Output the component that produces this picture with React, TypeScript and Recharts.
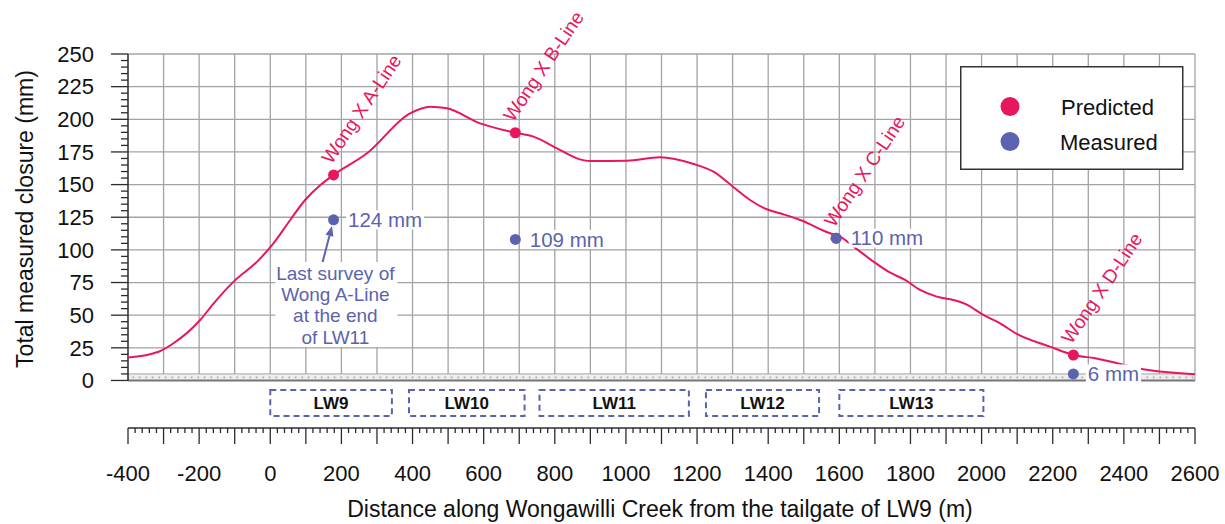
import React from 'react';
import {
  ComposedChart,
  Line,
  Scatter,
  XAxis,
  YAxis,
  ReferenceLine,
  ReferenceArea,
  ReferenceDot,
  Legend,
  Label,
} from 'recharts';

// ---------------- data ----------------
const CURVE_X = [-400, -314, -272, -197, -159, -103, -37, 9, 56, 98, 141, 178, 272, 393, 450, 497, 590, 689, 740, 806, 862, 899, 1003, 1096, 1190, 1246, 1301, 1349, 1396, 1433, 1490, 1574, 1602, 1640, 1696, 1743, 1785, 1827, 1874, 1921, 1954, 2005, 2052, 2099, 2192, 2258, 2319, 2469, 2600];
const CURVE_Y = [17.5, 22, 28.5, 46.3, 59.1, 75.7, 91, 105, 122.9, 138.2, 149.7, 157.4, 174, 204.6, 209.7, 208.4, 196.9, 189.7, 186.7, 177.8, 170.1, 168, 168.3, 170.9, 165.8, 159.9, 148.4, 138.2, 131.1, 128, 122.9, 112.7, 110.1, 102.5, 91, 82.5, 77, 69.3, 64.2, 61.6, 58.6, 50.2, 43.8, 35.6, 25.9, 19.5, 17, 8, 4.7];

const LINE_X = [178, 689, 1591, 2258];
const PREDICTED_Y = [157.4, 189.7, 109, 19.5];
const PREDICTED_LABELS = ['Wong X A-Line', 'Wong X B-Line', 'Wong X C-Line', 'Wong X D-Line'];
const MEASURED_Y = [123, 108, 109, 5];
const MEASURED_LABELS = ['124 mm', '109 mm', '110 mm', '6 mm'];

const LW_NAMES = ['LW9', 'LW10', 'LW11', 'LW12', 'LW13'];
const LW_START = [0, 390, 757, 1225, 1600];
const LW_END = [342, 715, 1177, 1543, 2005];

const NOTE_LINES = ['Last survey of', 'Wong A-Line', 'at the end', 'of LW11'];
const NOTE_POS = { x: 183, y: 57.8 };
const ARROW_FROM = { x: 145, y: 88.4 };
const ARROW_TO = { x: 173.5, y: 118.3 };

const SERIES_NAMES = ['Predicted', 'Measured'];

const X_LABELS = [-400, -200, 0, 200, 400, 600, 800, 1000, 1200, 1400, 1600, 1800, 2000, 2200, 2400, 2600];
const Y_LABELS = [0, 25, 50, 75, 100, 125, 150, 175, 200, 225, 250];

const steps = (a: number, b: number, s: number) => {
  const out: number[] = [];
  for (let v = a; v <= b; v += s) out.push(v);
  return out;
};
const X_TICKS = steps(-400, 2600, 20);
const Y_TICKS = steps(0, 250, 5);
const X_GRID = steps(-300, 2600, 100);
const Y_GRID = Y_LABELS.filter((v) => v > 0);

const curveData = CURVE_X.map((x, i) => ({ x, y: CURVE_Y[i] }));
const predictedData = LINE_X.map((x, i) => ({ x, y: PREDICTED_Y[i], label: PREDICTED_LABELS[i] }));
const measuredData = LINE_X.map((x, i) => ({ x, y: MEASURED_Y[i], label: MEASURED_LABELS[i] }));

// ---------------- styles ----------------
const FONT = '"Liberation Sans", Arial, Helvetica, sans-serif';
const PINK = '#e8175d';
const BLUE = '#5b63b0';
const GRID = '#a3a3a3';
const DARK = '#2b2b2b';
const X_TICK_SIZE = 16;
const Y_TICK_SIZE = 17;

const charW = (c: string) => (c === ' ' ? 0.278 : c === 'm' ? 0.833 : 0.556);
const textWidth = (s: string, fs: number) => s.split('').reduce((a, c) => a + charW(c), 0) * fs;

const XTick = (props: any) => {
  const { x, y, payload } = props;
  const v = payload.value;
  const axisY = y - X_TICK_SIZE;
  const major = v % 100 === 0;
  return (
    <g>
      <line x1={x} x2={x} y1={axisY} y2={axisY + (major ? 16 : 5)} stroke={DARK} strokeWidth={1.3} />
      {X_LABELS.includes(v) && (
        <text x={x} y={axisY + 53} textAnchor="middle" fontSize={22} fontFamily={FONT} fill="#111">
          {String(v)}
        </text>
      )}
    </g>
  );
};

const YTick = (props: any) => {
  const { x, y, payload } = props;
  const v = payload.value;
  const axisX = x + Y_TICK_SIZE;
  const major = Y_LABELS.includes(v);
  return (
    <g>
      <line x1={axisX - (major ? 17 : 7)} x2={axisX} y1={y} y2={y} stroke={DARK} strokeWidth={1.3} />
      {major && (
        <text x={axisX - 34} y={y} dy={7.8} textAnchor="end" fontSize={22} fontFamily={FONT} fill="#111">
          {String(v)}
        </text>
      )}
    </g>
  );
};

const PredShape = (p: any) => {
  const { cx, cy, payload } = p;
  return (
    <g>
      <circle cx={cx} cy={cy} r={5.5} fill={PINK} />
      <text
        transform={`translate(${cx - 2},${cy - 10}) rotate(-56)`}
        fontSize={19}
        fontFamily={FONT}
        fill={PINK}
      >
        {payload.label}
      </text>
    </g>
  );
};

const MeasShape = (p: any) => {
  const { cx, cy, payload } = p;
  const fs = 20.5;
  const w = textWidth(payload.label, fs);
  return (
    <g>
      <rect x={cx + 12.5} y={cy - 9.5} width={w + 4} height={19} fill="#fff" />
      <circle cx={cx} cy={cy} r={5.5} fill={BLUE} />
      <text x={cx + 14.5} y={cy} dy={7.3} fontSize={fs} fontFamily={FONT} fill={BLUE}>
        {payload.label}
      </text>
    </g>
  );
};

const ArrowShape = (p: any) => {
  const { x1, y1, x2, y2 } = p;
  const ang = Math.atan2(y2 - y1, x2 - x1);
  const L = 10;
  const W = 4;
  const bx = x2 - L * Math.cos(ang);
  const by = y2 - L * Math.sin(ang);
  const px = -Math.sin(ang) * W;
  const py = Math.cos(ang) * W;
  return (
    <g>
      <line x1={x1} y1={y1} x2={bx} y2={by} stroke={BLUE} strokeWidth={2} />
      <polygon points={`${x2},${y2} ${bx + px},${by + py} ${bx - px},${by - py}`} fill={BLUE} />
    </g>
  );
};

const NoteShape = (p: any) => {
  const { cx, cy } = p;
  const lh = 21.3;
  const n = NOTE_LINES.length;
  return (
    <g>
      <rect x={cx - 60} y={cy - 43} width={122} height={85} fill="#fff" />
      {NOTE_LINES.map((t, i) => (
        <text
          key={t}
          x={cx}
          y={cy + (i - (n - 1) / 2) * lh}
          dy={6.8}
          textAnchor="middle"
          fontSize={19}
          fontFamily={FONT}
          fill={BLUE}
        >
          {t}
        </text>
      ))}
    </g>
  );
};

const LegendBox = () => (
  <svg width={224} height={105} style={{ display: 'block' }}>
    <rect x={0.75} y={0.75} width={222} height={102.5} fill="#fff" stroke="#333" strokeWidth={1.5} />
    <circle cx={50} cy={40.5} r={9.5} fill={PINK} />
    <circle cx={50} cy={75.5} r={9.5} fill={BLUE} />
    <text x={101} y={40.5} dy={8} fontSize={22} fontFamily={FONT} fill="#111">
      {SERIES_NAMES[0]}
    </text>
    <text x={100} y={75.5} dy={8} fontSize={22} fontFamily={FONT} fill="#111">
      {SERIES_NAMES[1]}
    </text>
  </svg>
);

const YTitle = () => (
  <text
    x={25}
    y={219}
    transform="rotate(-90, 25, 219)"
    textAnchor="middle"
    dominantBaseline="central"
    fontSize={23}
    fontFamily={FONT}
    fill="#111"
  >
    Total measured closure (mm)
  </text>
);

const XTitle = () => (
  <text x={660} y={517} textAnchor="middle" fontSize={23} fontFamily={FONT} fill="#111">
    Distance along Wongawilli Creek from the tailgate of LW9 (m)
  </text>
);

export default function App() {
  return (
    <div style={{ position: 'absolute', left: 0, top: 0, width: 1225, height: 524, background: '#fff' }}>
      <svg width={0} height={0} style={{ position: 'absolute' }}>
        <defs>
          <pattern id="band-dots" x={0} y={374.1} width={6.5} height={6.4} patternUnits="userSpaceOnUse">
            <rect x={0} y={0} width={6.5} height={6.4} fill="#efefef" />
            <circle cx={3.2} cy={3.2} r={0.9} fill="#9a9a9a" />
          </pattern>
        </defs>
      </svg>
      <ComposedChart width={1225} height={524} margin={{ top: 54, right: 30, bottom: 0, left: 0 }}>
        <XAxis
          type="number"
          dataKey="x"
          domain={[-400, 2600]}
          ticks={X_TICKS}
          interval={0}
          tickSize={X_TICK_SIZE}
          tickMargin={0}
          tickLine={false}
          axisLine={{ stroke: DARK, strokeWidth: 1.3 }}
          tick={XTick}
          height={96}
        >
          <Label content={XTitle} />
        </XAxis>
        <YAxis
          type="number"
          domain={[-36.4, 250]}
          ticks={Y_TICKS}
          interval={0}
          tickSize={Y_TICK_SIZE}
          tickMargin={0}
          tickLine={false}
          axisLine={false}
          tick={YTick}
          width={128}
        >
          <Label content={YTitle} />
        </YAxis>

        {X_GRID.map((v) => (
          <ReferenceLine key={'gv' + v} segment={[{ x: v, y: 5 }, { x: v, y: 250 }]} stroke={GRID} strokeWidth={1.3} />
        ))}
        {Y_GRID.map((v) => (
          <ReferenceLine key={'gh' + v} y={v} stroke={GRID} strokeWidth={1.3} />
        ))}
        <ReferenceArea x1={-400} x2={2600} y1={0} y2={5} fill="url(#band-dots)" fillOpacity={1} stroke={GRID} strokeWidth={1} />
        <ReferenceLine y={0} stroke="#777" strokeWidth={2} />
        <ReferenceLine segment={[{ x: -400, y: 0 }, { x: -400, y: 250 }]} stroke={DARK} strokeWidth={1.5} />

        {LW_NAMES.map((name, i) => (
          <ReferenceArea
            key={name}
            x1={LW_START[i]}
            x2={LW_END[i]}
            y1={-7.3}
            y2={-27.2}
            fill="none"
            stroke={BLUE}
            strokeWidth={2}
            strokeDasharray="6 4"
            ifOverflow="visible"
            label={{
              position: 'center',
              content: (p: any) => {
                const vb = p.viewBox || {};
                return (
                  <text
                    x={vb.x + vb.width / 2}
                    y={vb.y + vb.height / 2}
                    dy={6}
                    textAnchor="middle"
                    fontSize={17}
                    fontWeight={700}
                    fontFamily={FONT}
                    fill="#111"
                  >
                    {name}
                  </text>
                );
              },
            }}
          />
        ))}

        <Line
          data={curveData}
          dataKey="y"
          type="monotone"
          stroke={PINK}
          strokeWidth={2}
          dot={false}
          activeDot={false}
          isAnimationActive={false}
          name={SERIES_NAMES[0] + ' curve'}
        />
        <Scatter data={predictedData} dataKey="y" name={SERIES_NAMES[0]} shape={PredShape} isAnimationActive={false} />
        <Scatter data={measuredData} dataKey="y" name={SERIES_NAMES[1]} shape={MeasShape} isAnimationActive={false} />

        <ReferenceLine segment={[ARROW_FROM, ARROW_TO]} stroke={BLUE} shape={ArrowShape} />
        <ReferenceDot x={NOTE_POS.x} y={NOTE_POS.y} r={1} shape={NoteShape} />

        <Legend
          layout="horizontal"
          verticalAlign="middle"
          align="center"
          wrapperStyle={{ position: 'absolute', left: 960, top: 66, width: 224, height: 105 }}
          content={() => <LegendBox />}
        />
      </ComposedChart>
    </div>
  );
}
